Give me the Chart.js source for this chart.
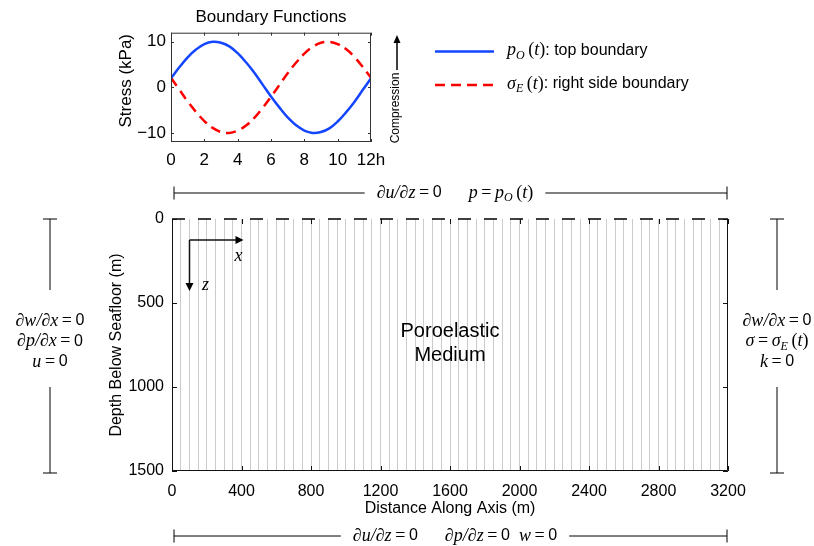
<!DOCTYPE html>
<html>
<head>
<meta charset="utf-8">
<script src="https://cdn.jsdelivr.net/npm/chart.js@4.4.1/dist/chart.umd.min.js"></script>
<style>
  html, body { margin: 0; padding: 0; background: #fff; }
  #wrap { position: relative; width: 814px; height: 546px; }
  canvas { position: absolute; left: 0; top: 0; }
</style>
</head>
<body>
<div id="wrap">
  <canvas id="main" width="814" height="546"></canvas>
  <canvas id="top" width="814" height="176"></canvas>
</div>
<script>
// boundary functions (hours, kPa)
const hours = [0, 0.5, 1, 1.5, 2, 2.5, 3, 3.5, 4, 4.5, 5, 5.5, 6, 6.5, 7, 7.5, 8, 8.5, 9, 9.5, 10, 10.5, 11, 11.5, 12];
const topBoundary = [2.0, 4.4, 6.6, 8.3, 9.5, 10.0, 9.8, 9.0, 7.5, 5.5, 3.2, 0.6, -2.0, -4.4, -6.6, -8.3, -9.5, -10.0, -9.8, -9.0, -7.5, -5.5, -3.2, -0.6, 2.0];
const sideBoundary = [2.1, -0.5, -3.1, -5.4, -7.4, -8.9, -9.8, -10.0, -9.5, -8.4, -6.7, -4.5, -2.1, 0.5, 3.1, 5.4, 7.4, 8.9, 9.8, 10.0, 9.5, 8.4, 6.7, 4.5, 2.1];
const hourTicks = [0, 2, 4, 6, 8, 10, 12];
const stressTicks = [-10, 0, 10];

// model domain
const distanceTicks = [0, 400, 800, 1200, 1600, 2000, 2400, 2800, 3200];
const depthTicks = [0, 500, 1000, 1500];
const meshSpacing = 50;
const seafloorLine = [0, 3200];

const SANS = '"Liberation Sans", Arial, Helvetica, sans-serif';
const SERIF = '"Liberation Serif", "Times New Roman", serif';
const fonts = {
  m: 'italic 18px ' + SERIF,
  u: '18px ' + SERIF,
  r: '16px ' + SANS,
  s: 'italic 12px ' + SERIF
};

// draws a row of mixed math / plain pieces, returns its width
function richText(ctx, parts, x, y, align) {
  let w = 0;
  parts.forEach(p => { ctx.font = fonts[p[1]]; w += ctx.measureText(p[0]).width; });
  let cx = align === 'center' ? x - w / 2 : x;
  ctx.textAlign = 'left';
  ctx.textBaseline = 'middle';
  ctx.fillStyle = '#000';
  parts.forEach(p => {
    ctx.font = fonts[p[1]];
    ctx.fillText(p[0], cx, y + (p[1] === 's' ? 5 : 0));
    cx += ctx.measureText(p[0]).width;
  });
  return w;
}

function arrowHead(ctx, x, y, dir) {
  ctx.beginPath();
  if (dir === 'right') { ctx.moveTo(x, y); ctx.lineTo(x - 8, y - 4); ctx.lineTo(x - 8, y + 4); }
  if (dir === 'down') { ctx.moveTo(x, y); ctx.lineTo(x - 4, y - 8); ctx.lineTo(x + 4, y - 8); }
  if (dir === 'up') { ctx.moveTo(x, y); ctx.lineTo(x - 3.5, y + 8); ctx.lineTo(x + 3.5, y + 8); }
  ctx.closePath();
  ctx.fill();
}

const eq = '\u2009=\u2009';

// ---------- main domain sketch ----------
const domainExtras = {
  id: 'domainExtras',
  afterDatasetsDraw(chart) {
    const ctx = chart.ctx;
    const a = chart.chartArea;
    const xs = chart.scales.x, ys = chart.scales.y;
    ctx.save();
    ctx.strokeStyle = '#111';
    ctx.lineWidth = 1;
    // left, bottom, right borders (top is the dashed seafloor)
    ctx.beginPath();
    ctx.moveTo(a.left + 0.5, a.top);
    ctx.lineTo(a.left + 0.5, a.bottom - 0.5);
    ctx.lineTo(a.right - 0.5, a.bottom - 0.5);
    ctx.lineTo(a.right - 0.5, a.top);
    ctx.stroke();
    // inner ticks
    ctx.beginPath();
    distanceTicks.forEach(v => {
      const px = Math.round(xs.getPixelForValue(v)) + 0.5;
      ctx.moveTo(px, a.bottom); ctx.lineTo(px, a.bottom - 5);
      ctx.moveTo(px, a.top); ctx.lineTo(px, a.top + 5);
    });
    depthTicks.forEach(v => {
      const py = Math.round(ys.getPixelForValue(v)) + 0.5;
      ctx.moveTo(a.left, py); ctx.lineTo(a.left + 5, py);
      ctx.moveTo(a.right, py); ctx.lineTo(a.right - 5, py);
    });
    ctx.stroke();

    // coordinate arrows
    ctx.fillStyle = '#000';
    ctx.lineWidth = 1.5;
    const ox = a.left + 17.5, oy = a.top + 21;
    ctx.beginPath();
    ctx.moveTo(ox, oy); ctx.lineTo(ox + 48, oy);
    ctx.moveTo(ox, oy); ctx.lineTo(ox, oy + 45);
    ctx.stroke();
    arrowHead(ctx, ox + 54, oy, 'right');
    arrowHead(ctx, ox, oy + 51, 'down');
    richText(ctx, [['x', 'm']], ox + 49, oy + 16, 'center');
    richText(ctx, [['z', 'm']], ox + 16, oy + 45, 'center');

    // label in the middle
    ctx.font = '20px ' + SANS;
    ctx.textAlign = 'center';
    ctx.textBaseline = 'middle';
    const mx = (a.left + a.right) / 2;
    ctx.fillText('Poroelastic', mx, a.top + 112);
    ctx.fillText('Medium', mx, a.top + 136);

    // boundary condition brackets
    ctx.lineWidth = 1;
    ctx.strokeStyle = '#000';
    function hBracket(y, parts, cx) {
      const w = richText(ctx, parts, cx, y, 'center');
      ctx.beginPath();
      ctx.moveTo(a.left + 2, y - 6.5); ctx.lineTo(a.left + 2, y + 6.5);
      ctx.moveTo(a.right - 1, y - 6.5); ctx.lineTo(a.right - 1, y + 6.5);
      ctx.moveTo(a.left + 2, y); ctx.lineTo(cx - w / 2 - 12, y);
      ctx.moveTo(cx + w / 2 + 12, y); ctx.lineTo(a.right - 1, y);
      ctx.stroke();
    }
    function vBracket(x, rows) {
      ctx.beginPath();
      ctx.moveTo(x - 7, a.top); ctx.lineTo(x + 7, a.top);
      ctx.moveTo(x - 7, a.bottom + 2); ctx.lineTo(x + 7, a.bottom + 2);
      ctx.moveTo(x, a.top); ctx.lineTo(x, a.top + 71);
      ctx.moveTo(x, a.top + 168); ctx.lineTo(x, a.bottom + 2);
      ctx.stroke();
      rows.forEach((r, i) => richText(ctx, r, x, a.top + 102 + i * 20.5, 'center'));
    }
    hBracket(a.top - 26, [['\u2202u/\u2202z', 'm'], [eq, 'u'], ['0', 'r'], ['\u2003\u2002', 'u'], ['p', 'm'], [eq, 'u'], ['p', 'm'], ['O', 's'], ['\u2009(', 'u'], ['t', 'm'], [')', 'u']], mx + 5);
    hBracket(a.bottom + 65, [['\u2202u/\u2202z', 'm'], [eq, 'u'], ['0', 'r'], ['\u2003\u2002', 'u'], ['\u2202p/\u2202z', 'm'], [eq, 'u'], ['0', 'r'], ['\u2002', 'u'], ['w', 'm'], [eq, 'u'], ['0', 'r']], mx + 5);
    vBracket(50, [
      [['\u2202w/\u2202x', 'm'], [eq, 'u'], ['0', 'r']],
      [['\u2202p/\u2202x', 'm'], [eq, 'u'], ['0', 'r']],
      [['u', 'm'], [eq, 'u'], ['0', 'r']]
    ]);
    vBracket(777, [
      [['\u2202w/\u2202x', 'm'], [eq, 'u'], ['0', 'r']],
      [['\u03c3', 'm'], [eq, 'u'], ['\u03c3', 'm'], ['E', 's'], ['\u2009(', 'u'], ['t', 'm'], [')', 'u']],
      [['k', 'm'], [eq, 'u'], ['0', 'r']]
    ]);
    ctx.restore();
  }
};

new Chart(document.getElementById('main'), {
  type: 'line',
  data: {
    datasets: [{
      label: 'seafloor',
      data: seafloorLine.map(v => ({ x: v, y: 0 })),
      borderColor: '#000',
      borderWidth: 1.5,
      borderDash: [13, 13],
      pointRadius: 0,
      clip: false
    }]
  },
  options: {
    responsive: false,
    animation: false,
    layout: { padding: { left: 103, right: 86, top: 219, bottom: 25 } },
    plugins: { legend: { display: false }, tooltip: { enabled: false } },
    scales: {
      x: {
        type: 'linear', min: 0, max: 3200,
        ticks: {
          stepSize: meshSpacing, autoSkip: false, maxRotation: 0, padding: 11,
          color: '#000', font: { family: SANS, size: 16 },
          callback: v => distanceTicks.includes(v) ? String(v) : ''
        },
        grid: {
          drawTicks: false, lineWidth: 1,
          color: c => (c.tick && (c.tick.value === 0 || c.tick.value === 3200)) ? 'rgba(0,0,0,0)' : '#cbcbcb'
        },
        border: { display: false },
        title: { display: true, text: 'Distance Along Axis (m)', color: '#000', font: { family: SANS, size: 16 }, padding: { top: 4, bottom: 3 } },
        afterFit: s => { s.height = 50; }
      },
      y: {
        type: 'linear', min: 0, max: 1500, reverse: true,
        afterBuildTicks: s => { s.ticks = depthTicks.map(v => ({ value: v })); },
        ticks: { padding: 8, color: '#000', font: { family: SANS, size: 16 }, callback: v => String(v) },
        grid: { display: false, drawTicks: false },
        border: { display: false },
        title: { display: true, text: 'Depth Below Seafloor (m)', color: '#000', font: { family: SANS, size: 16 }, padding: { top: 4, bottom: 4 } },
        afterFit: s => { s.width = 69; }
      }
    }
  },
  plugins: [domainExtras]
});

// ---------- boundary functions ----------
const boundaryExtras = {
  id: 'boundaryExtras',
  afterDatasetsDraw(chart) {
    const ctx = chart.ctx;
    const a = chart.chartArea;
    const xs = chart.scales.x, ys = chart.scales.y;
    ctx.save();
    ctx.strokeStyle = '#333';
    ctx.lineWidth = 1;
    ctx.strokeRect(a.left + 0.5, a.top + 0.5, a.right - a.left - 1, a.bottom - a.top - 1);
    ctx.beginPath();
    hourTicks.forEach(v => {
      const px = Math.round(xs.getPixelForValue(v)) + 0.5;
      ctx.moveTo(px, a.bottom); ctx.lineTo(px, a.bottom - 3);
      ctx.moveTo(px, a.top); ctx.lineTo(px, a.top + 3);
    });
    stressTicks.forEach(v => {
      const py = Math.round(ys.getPixelForValue(v)) + 0.5;
      ctx.moveTo(a.left, py); ctx.lineTo(a.left + 3, py);
      ctx.moveTo(a.right, py); ctx.lineTo(a.right - 3, py);
    });
    ctx.stroke();

    // compression arrow
    ctx.fillStyle = '#000';
    ctx.strokeStyle = '#000';
    ctx.lineWidth = 1.5;
    ctx.beginPath();
    ctx.moveTo(397, 70); ctx.lineTo(397, 42);
    ctx.stroke();
    arrowHead(ctx, 397, 35, 'up');
    ctx.translate(396, 108);
    ctx.rotate(-Math.PI / 2);
    ctx.font = '12px ' + SANS;
    ctx.textAlign = 'center';
    ctx.textBaseline = 'middle';
    ctx.fillText('Compression', 0, 0);
    ctx.setTransform(1, 0, 0, 1, 0, 0);

    // legend
    const rows = [
      [['p', 'm'], ['O', 's'], ['\u2009(', 'u'], ['t', 'm'], [')', 'u'], [': top boundary', 'r']],
      [['\u03c3', 'm'], ['E', 's'], ['\u2009(', 'u'], ['t', 'm'], [')', 'u'], [': right side boundary', 'r']]
    ];
    chart.data.datasets.forEach((ds, i) => {
      const y = 51.5 + i * 33.5;
      ctx.strokeStyle = ds.borderColor;
      ctx.lineWidth = ds.borderWidth;
      ctx.setLineDash(ds.borderDash || []);
      ctx.beginPath();
      ctx.moveTo(435, y); ctx.lineTo(494, y);
      ctx.stroke();
      ctx.setLineDash([]);
      richText(ctx, rows[i], 507, y - 1, 'left');
    });
    ctx.restore();
  }
};

new Chart(document.getElementById('top'), {
  type: 'line',
  data: {
    datasets: [{
      label: 'top boundary',
      data: hours.map((h, i) => ({ x: h, y: topBoundary[i] })),
      borderColor: '#1446ff',
      borderWidth: 2.5,
      pointRadius: 0,
      tension: 0.4
    }, {
      label: 'right side boundary',
      data: hours.map((h, i) => ({ x: h, y: sideBoundary[i] })),
      borderColor: '#ff0000',
      borderWidth: 2.5,
      borderDash: [10, 6],
      pointRadius: 0,
      tension: 0.4
    }]
  },
  options: {
    responsive: false,
    animation: false,
    layout: { padding: { left: 112, right: 443, top: 0, bottom: 0 } },
    plugins: {
      legend: { display: false },
      tooltip: { enabled: false },
      title: {
        display: true, text: 'Boundary Functions', fullSize: false, color: '#000',
        font: { family: SANS, size: 17, weight: 'normal' }, padding: { top: 7, bottom: 5.3 }
      }
    },
    scales: {
      x: {
        type: 'linear', min: 0, max: 12,
        afterBuildTicks: s => { s.ticks = hourTicks.map(v => ({ value: v })); },
        ticks: { padding: 8, maxRotation: 0, color: '#000', font: { family: SANS, size: 17 }, callback: v => v === 12 ? '12h' : String(v) },
        grid: { display: false, drawTicks: false },
        border: { display: false },
        afterFit: s => { s.height = 34; }
      },
      y: {
        type: 'linear', min: -12, max: 12,
        afterBuildTicks: s => { s.ticks = stressTicks.map(v => ({ value: v })); },
        ticks: { padding: 5, color: '#000', font: { family: SANS, size: 17 }, callback: v => v < 0 ? '\u2212' + Math.abs(v) : String(v) },
        grid: { display: false, drawTicks: false },
        border: { display: false },
        title: { display: true, text: '\u2002 Stress (kPa)', color: '#000', font: { family: SANS, size: 17 }, padding: { top: 4, bottom: 4 } },
        afterFit: s => { s.width = 59; }
      }
    }
  },
  plugins: [boundaryExtras]
});
</script>
</body>
</html>
